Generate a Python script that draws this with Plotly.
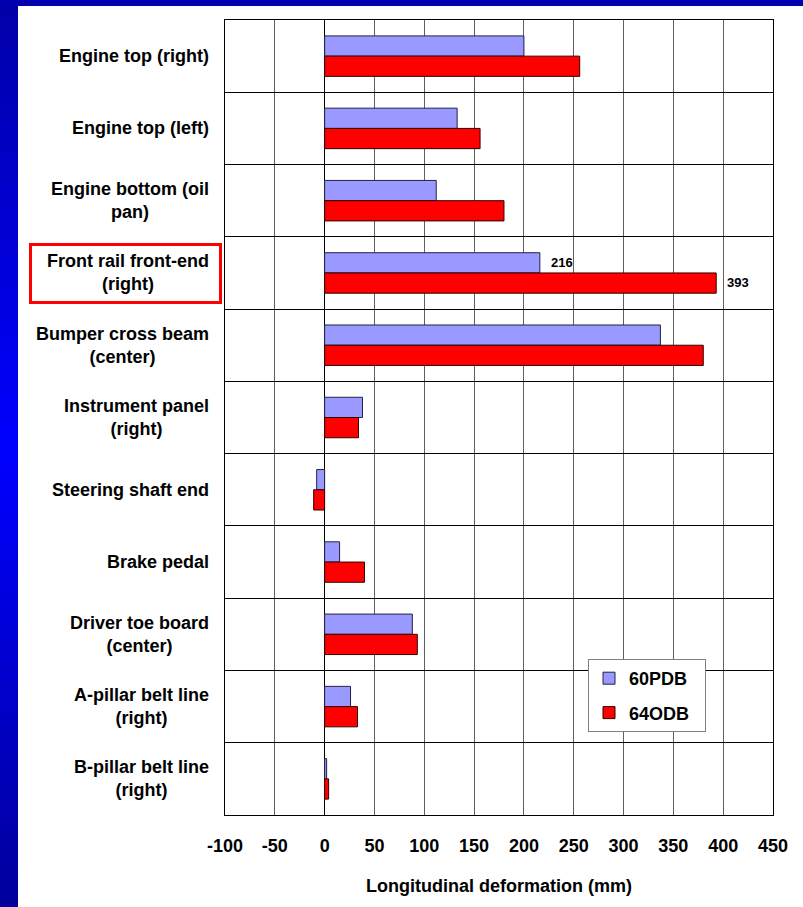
import plotly.graph_objects as go

categories = ["Engine top (right)", "Engine top (left)", "Engine bottom (oil pan)",
              "Front rail front-end (right)", "Bumper cross beam (center)",
              "Instrument panel (right)", "Steering shaft end", "Brake pedal",
              "Driver toe board (center)", "A-pillar belt line (right)",
              "B-pillar belt line (right)"]
category_labels = ["Engine top (right)", "Engine top (left)", "Engine bottom (oil<br>pan)",
                   "Front rail front-end<br>(right)", "Bumper cross beam<br>(center)",
                   "Instrument panel<br>(right)", "Steering shaft end", "Brake pedal",
                   "Driver toe board<br>(center)", "A-pillar belt line<br>(right)",
                   "B-pillar belt line<br>(right)"]
pdb60 = [200, 133, 112, 216, 337, 38, -8, 15, 88, 26, 2]
odb64 = [256, 156, 180, 393, 380, 34, -11, 40, 93, 33, 4]
series_names = ["60PDB", "64ODB"]
x_ticks = [-100, -50, 0, 50, 100, 150, 200, 250, 300, 350, 400, 450]
labelled_category = "Front rail front-end (right)"

W, H = 803, 907
L, R, T, B = 225, 30, 20, 92
PW, PH = W - L - R, H - T - B


def px_x(px):
    return (px - L) / PW


def px_y(py):
    return (T + PH - py) / PH


FONT = "Liberation Sans, Arial, sans-serif"
NB = "\u00a0\u00a0"

fig = go.Figure()
fig.add_trace(go.Bar(y=categories, x=pdb60, orientation="h", name=series_names[0] + NB,
                     marker=dict(color="#9999FF", line=dict(color="#222244", width=1)),
                     legendgroup="a"))
fig.add_trace(go.Bar(y=categories, x=odb64, orientation="h", name=series_names[1] + NB,
                     marker=dict(color="#FF0000", line=dict(color="#330000", width=1)),
                     legendgroup="b"))

shapes = []
n = 60


def blue_at(t):
    if t < 0.5:
        v = 168 + (255 - 168) * (t / 0.5)
    else:
        v = 255 - (255 - 156) * ((t - 0.5) / 0.5)
    return "rgb(0,0,%d)" % int(v)


for i in range(n):
    y0 = H * i / n
    y1 = H * (i + 1) / n + 1
    shapes.append(dict(type="rect", xref="paper", yref="paper",
                       x0=px_x(0), x1=px_x(18), y0=px_y(y1), y1=px_y(y0),
                       fillcolor=blue_at((i + 0.5) / n), line=dict(width=0), layer="above"))
shapes.append(dict(type="rect", xref="paper", yref="paper",
                   x0=px_x(0), x1=px_x(W), y0=px_y(6), y1=px_y(0),
                   fillcolor="#0000B0", line=dict(width=0), layer="above"))
shapes.append(dict(type="rect", xref="paper", yref="paper",
                   x0=px_x(30.5), x1=px_x(220.5), y0=px_y(302.5), y1=px_y(244.5),
                   line=dict(color="#FF0000", width=3), fillcolor="rgba(0,0,0,0)"))

annotations = []
for cat, lab in zip(categories, category_labels):
    annotations.append(dict(x=0, xref="paper", y=cat, yref="y", text=lab,
                            xanchor="right", yanchor="middle", align="center",
                            xshift=-14, showarrow=False,
                            font=dict(family=FONT, size=18, color="black", weight="bold")))

idx = categories.index(labelled_category)
for vals, ysh in ((pdb60, 10), (odb64, -10)):
    annotations.append(dict(x=vals[idx], xref="x", y=labelled_category, yref="y",
                            text=str(vals[idx]), xanchor="left", yanchor="middle",
                            xshift=9, yshift=ysh, showarrow=False,
                            font=dict(family=FONT, size=13, color="black", weight="bold")))

fig.update_layout(
    width=W, height=H,
    margin=dict(l=L, r=R, t=T, b=B, pad=0),
    paper_bgcolor="white", plot_bgcolor="white",
    barmode="group", bargap=0.44, bargroupgap=0,
    font=dict(family=FONT, size=18, color="black", weight="bold"),
    shapes=shapes, annotations=annotations,
    legend=dict(x=px_x(588), y=px_y(659), xanchor="left", yanchor="top",
                bgcolor="white", bordercolor="#808080", borderwidth=1,
                font=dict(family=FONT, size=18, color="black", weight="bold"),
                tracegroupgap=8, traceorder="grouped"),
    xaxis=dict(range=[-100, 450], tickvals=x_ticks, ticktext=[str(v) for v in x_ticks],
               showgrid=True, gridcolor="#606060", gridwidth=1,
               zeroline=True, zerolinecolor="black", zerolinewidth=1,
               showline=True, linecolor="black", linewidth=1, mirror=True,
               ticks="", ticklabelstandoff=14,
               tickfont=dict(family=FONT, size=18, color="black", weight="bold"),
               title=dict(text="Longitudinal deformation (mm)", standoff=24,
                          font=dict(family=FONT, size=18, color="black", weight="bold"))),
    yaxis=dict(autorange="reversed", type="category", tickson="boundaries",
               showgrid=True, gridcolor="black", gridwidth=1,
               showline=True, linecolor="black", linewidth=1, mirror=True,
               showticklabels=False, ticks=""),
)

fig.write_html("out.html", config={"displayModeBar": False},
               post_script="document.body.style.margin='0';document.body.style.overflow='hidden';")
